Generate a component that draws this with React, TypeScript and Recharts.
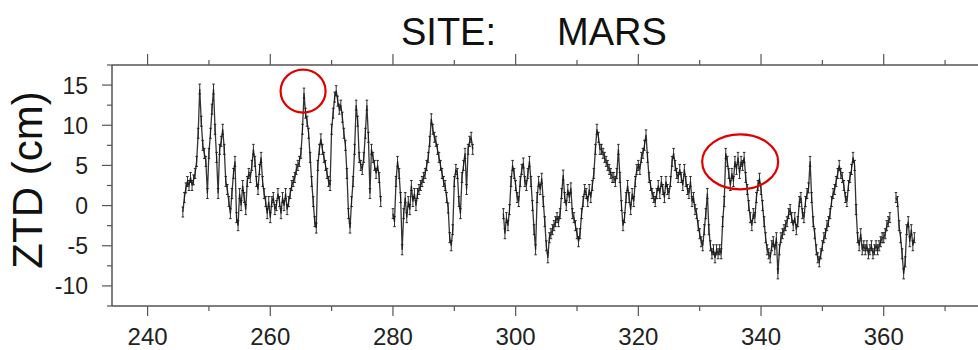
import React from "react"
import { ScatterChart, Scatter, XAxis, YAxis, ReferenceDot } from "recharts"

// sampling interval of the ZTD estimates (days)
const STEP = 0.25

// ZTD residuals (cm), one array per continuous arc
const startA = 245.75
const ztdA = [
  -0.8,
  1.0, 2.2, 3.0, 2.5, 3.5, 2.5, 3.2, 4.0, 5.5, 9.0, 14.5, 10.5, 7.5, 6.5, 5.5, 1.5,
  6.5, 9.0, 12.0, 14.5, 9.5, 6.0, 1.5, 7.0, 8.0, 9.5, 7.0, 3.0, 2.0, 0.5, -1.0, 1.5,
  4.0, 5.5, -1.5, -2.5, 1.5, 0.0, 2.5, 1.0, -0.5, 3.0, 4.0, 3.5, 5.0, 7.0, 5.5, 3.0,
  2.0, 4.5, 6.0, 3.0, 1.5, 0.5, -1.0, 0.5, -1.5, 0.5, 1.0, -0.5, 0.0, 1.5, 0.5, -1.0,
  1.0, 0.0, 1.5, -0.5, 0.5, 1.5, 2.5, 3.0, 3.5, 4.5, 5.0, 5.5, 6.5, 9.5, 14.0, 11.5,
  10.5, 9.0, 6.0, 3.0, 0.5, -2.0, -2.8, 5.0, 7.0, 8.3, 7.0, 6.0, 5.0, 4.0, 3.0, 2.5,
  9.5, 11.5, 13.5, 14.3, 13.0, 12.0, 12.5, 11.0, 9.0, 7.5, 4.0, -1.0, -2.8, 0.5, 3.0, 7.0,
  12.5, 10.5, 6.0, 5.0, 4.5, 6.0, 9.0, 12.5, 8.5, 1.5, 7.0, 6.0, 5.0, 4.0, 5.0, 3.5,
  0.5,
]

const startB = 280
const ztdB = [
  -1.0, -2.0, 3.0, 5.5, 4.0, 1.0, -5.5, -1.0, 1.0, -1.5, 0.5, -0.5, 2.5, 0.5, 1.5, 0.0,
  1.5, 2.0, 2.5, 3.0, 3.5, 4.0, 5.0, 6.0, 8.0, 10.8, 9.5, 8.5, 8.0, 7.0, 6.0, 5.0,
  4.0, 3.0, 2.5, 1.0, -0.3, -4.0, -5.0, -3.0, 3.0, 4.5, 4.0, 0.5, -1.0, 3.5, 5.0, 6.5,
  2.0, 7.0, 8.0, 8.5, 7.0,
]

const startC = 298
const ztdC = [
  -1.0, -3.5, -1.5, -2.5, -0.5, 3.0, 5.0, 4.0, 2.5, 1.0, 0.5, 3.0, 4.5, 5.3, 3.0, 2.5,
  4.0, 5.5, 3.0, 0.0, -3.0, -5.5, 1.0, 3.0, 2.0, 3.4, 0.5, -2.0, -5.0, -6.5, -4.0, -3.5,
  -3.0, -2.5, -2.0, -1.5, -2.0, -1.0, 1.5, 3.8, 1.0, 0.0, 2.0, 1.0, 2.2, -1.0, -1.5, -2.5,
  -3.5, -4.5, -3.5, -1.0, 0.5, 2.0, 1.5, 0.5, 2.0, 1.0, 2.5, 4.0, 7.0, 9.5, 8.5, 7.0,
  7.0, 6.5, 6.0, 5.5, 5.0, 4.5, 4.0, 3.5, 3.5, 3.0, 4.0, 7.0, 3.5, 0.0, -2.5, -1.5,
  1.0, 2.5, 1.0, -0.5, 1.5, 0.5, 3.0, 4.5, 5.0, 4.5, 6.0, 6.5, 7.5, 8.8, 6.0, 3.5,
  2.5, 1.5, 1.0, 0.5, 1.5, 2.5, 1.5, 3.0, 2.0, 1.0, 3.0, 2.0, 1.5, 3.0, 5.5, 6.5,
  5.0, 4.0, 3.5, 4.5, 3.5, 2.5, 4.5, 3.0, 2.0, 1.5, 3.0, 0.5, 1.0, -0.5, -1.0, -2.5,
  -3.5, -4.5, -5.0, -3.0, -1.0, 1.5, -3.0, -5.0, -6.0, -5.5, -6.5, -5.5, -6.0, -5.5, -6.0, -2.0,
  0.5, 6.5, 5.5, 4.0, 2.5, 4.0, 3.0, 5.5, 4.5, 6.0, 4.0, 5.5, 5.0, 6.0, 3.5, 2.0,
  0.0, -1.5, -2.5, -1.0, -1.5, 1.0, 2.5, 3.4, 2.0, 0.0, -2.0, -4.0, -5.5, -6.0, -6.5, -5.0,
  -4.5, -5.5, -4.0, -8.5, -5.5, -4.0, -3.5, -3.0, -2.5, -2.0, -1.0, -0.5, -1.5, -2.5, -1.5, -3.0,
  -2.0, 0.5, 1.0, -1.0, -1.5, 0.5, 1.5, 2.2, 5.5, 1.0, -2.0, -3.5, -5.5, -6.5, -7.0, -6.0,
  -5.0, -4.0, -3.5, -2.5, -2.0, -1.0, 0.5, 1.5, 2.0, 3.0, 4.0, 5.0, 4.0, 3.5, 2.5, 1.0,
  0.5, 2.5, 3.5, 4.5, 6.0, 5.0, -0.5, -4.0, -5.0, -3.5, -5.5, -5.0, -5.5, -5.0, -6.0, -5.5,
  -5.0, -6.0, -5.5, -5.0, -5.5, -5.0, -4.5, -4.0, -4.0, -3.5, -2.5, -2.0, -1.5,
]

const startD = 362
const ztdD = [1.0, 0.5, -2.5, -4.0, -6.0, -8.5, -7.0, -3.0, -2.0, -4.5, -3.0, -5.0, -4.0]

// red circles marking the two highlighted episodes (day, ztd)
const highlightDays = [265.35, 336.6]
const highlightZtd = [14.25, 5.45]

const xTicks = [240, 250, 260, 270, 280, 290, 300, 310, 320, 330, 340, 350, 360, 370]
const yTicks = [-12.5, -10, -7.5, -5, -2.5, 0, 2.5, 5, 7.5, 10, 12.5, 15, 17.5]

const toRows = (start: number, values: number[]) =>
  values.map((v, i) => ({ day: start + i * STEP, ztd: v }))

const arcs = [
  toRows(startA, ztdA),
  toRows(startB, ztdB),
  toRows(startC, ztdC),
  toRows(startD, ztdD),
]

const FONT = '"Liberation Sans", Arial, sans-serif'
const AXIS = "#555"
const ringSizes = [
  { rx: 22.5, ry: 21.5 },
  { rx: 38, ry: 27.5 },
]

const BottomTick = (props: any) => {
  const { x, y, payload } = props
  const major = payload.value % 20 === 0
  return (
    <g>
      <line x1={x} x2={x} y1={y} y2={y + (major ? 10 : 5)} stroke={AXIS} strokeWidth={1.2} />
      {major && (
        <text x={x} y={y + 39} textAnchor="middle" fontSize={24} fontFamily={FONT} fill="#222">
          {payload.value}
        </text>
      )}
    </g>
  )
}

const TopTick = (props: any) => {
  const { x, y, payload } = props
  const major = payload.value % 20 === 0
  return <line x1={x} x2={x} y1={y} y2={y - (major ? 11 : 5)} stroke={AXIS} strokeWidth={1.2} />
}

const LeftTick = (props: any) => {
  const { x, y, payload } = props
  const major = payload.value % 5 === 0
  return (
    <g>
      <line x1={x} x2={x - (major ? 10 : 5)} y1={y} y2={y} stroke={AXIS} strokeWidth={1.2} />
      {major && (
        <text x={88} y={y + 8.5} textAnchor="end" fontSize={23} fontFamily={FONT} fill="#222">
          {payload.value}
        </text>
      )}
    </g>
  )
}

// each estimate drawn as a small error bar
const ErrGlyph = (props: any) => {
  const { cx, cy } = props
  if (cx == null || cy == null) return <g />
  return (
    <g stroke="#1a1a1a" strokeWidth={0.9}>
      <line x1={cx} x2={cx} y1={cy - 5} y2={cy + 5} />
      <line x1={cx - 1.3} x2={cx + 1.3} y1={cy - 5} y2={cy - 5} />
      <line x1={cx - 1.3} x2={cx + 1.3} y1={cy + 5} y2={cy + 5} />
    </g>
  )
}

export default function App() {
  return (
    <div
      style={{
        position: "absolute",
        left: 0,
        top: 0,
        width: 978,
        height: 350,
        overflow: "hidden",
        background: "#fff",
      }}
    >
      <ScatterChart width={1000} height={350} margin={{ top: 0, right: 12, bottom: 0, left: 0 }}>
        <XAxis
          xAxisId="b"
          type="number"
          dataKey="day"
          domain={[234.2, 377]}
          ticks={xTicks}
          interval={0}
          height={44}
          tickSize={0}
          tickMargin={0}
          tickLine={false}
          tick={<BottomTick />}
          axisLine={{ stroke: AXIS, strokeWidth: 1.5 }}
          allowDataOverflow
        />
        <XAxis
          xAxisId="t"
          orientation="top"
          type="number"
          dataKey="day"
          domain={[234.2, 377]}
          ticks={xTicks}
          interval={0}
          height={65}
          tickSize={0}
          tickMargin={0}
          tickLine={false}
          tick={<TopTick />}
          axisLine={{ stroke: AXIS, strokeWidth: 1.5 }}
          allowDataOverflow
        />
        <YAxis
          type="number"
          dataKey="ztd"
          domain={[-12.5, 17.5]}
          ticks={yTicks}
          interval={0}
          width={112}
          tickSize={0}
          tickMargin={0}
          tickLine={false}
          tick={<LeftTick />}
          axisLine={{ stroke: AXIS, strokeWidth: 1.5 }}
          allowDataOverflow
        />
        {arcs.map((rows, i) => (
          <Scatter
            key={i}
            xAxisId="b"
            data={rows}
            line={{ stroke: "#333", strokeWidth: 1.3 }}
            lineType="joint"
            shape={<ErrGlyph />}
            isAnimationActive={false}
          />
        ))}
        {highlightDays.map((d, i) => (
          <ReferenceDot
            key={`ring-${i}`}
            xAxisId="b"
            x={d}
            y={highlightZtd[i]}
            ifOverflow="visible"
            shape={(p: any) => (
              <ellipse
                cx={p.cx}
                cy={p.cy}
                rx={ringSizes[i].rx}
                ry={ringSizes[i].ry}
                fill="none"
                stroke="#e00000"
                strokeWidth={2.2}
              />
            )}
          />
        ))}
      </ScatterChart>
      <svg
        width={978}
        height={350}
        style={{ position: "absolute", left: 0, top: 0, pointerEvents: "none" }}
      >
        <text x={401} y={45} fontSize={38} fontFamily={FONT} fill="#111">
          SITE:
        </text>
        <text x={557} y={45} fontSize={38} fontFamily={FONT} fill="#111">
          MARS
        </text>
        <text
          x={0}
          y={0}
          transform="translate(42,180) rotate(-90)"
          textAnchor="middle"
          fontSize={42}
          fontFamily={FONT}
          fill="#111"
        >
          ZTD (cm)
        </text>
      </svg>
    </div>
  )
}
